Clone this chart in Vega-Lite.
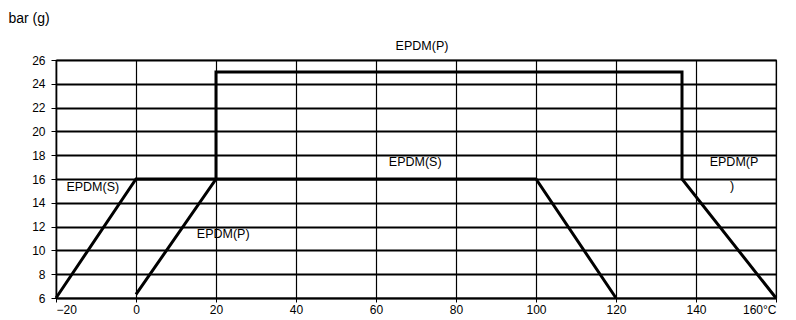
{
  "$schema": "https://vega.github.io/schema/vega-lite/v6.json",
  "width": 720,
  "height": 238,
  "padding": {"left": 56, "top": 60, "right": 20, "bottom": 22},
  "autosize": {"type": "none"},
  "background": "white",
  "config": {
    "font": "Liberation Sans",
    "view": {"stroke": "black", "strokeWidth": 1.2},
    "axis": {
      "labelFont": "Liberation Sans",
      "labelFontSize": 12,
      "labelColor": "black",
      "labelOverlap": false,
      "domainColor": "black",
      "tickColor": "black",
      "gridColor": "black",
      "gridOpacity": 1
    }
  },
  "datasets": {
    "lines": [
      {"series": "EPDM(S)", "order": 1, "t": -20, "bar": 6},
      {"series": "EPDM(S)", "order": 2, "t": 0, "bar": 16},
      {"series": "EPDM(S)", "order": 3, "t": 100, "bar": 16},
      {"series": "EPDM(S)", "order": 4, "t": 120, "bar": 6},
      {"series": "EPDM(P)", "order": 1, "t": 0, "bar": 6.3},
      {"series": "EPDM(P)", "order": 2, "t": 20, "bar": 16},
      {"series": "EPDM(P)", "order": 3, "t": 20, "bar": 25},
      {"series": "EPDM(P)", "order": 4, "t": 136.5, "bar": 25},
      {"series": "EPDM(P)", "order": 5, "t": 136.5, "bar": 16},
      {"series": "EPDM(P)", "order": 6, "t": 160, "bar": 6}
    ],
    "labels": [
      {"text": "EPDM(P)", "t": 71.5, "bar": 27.15},
      {"text": "EPDM(S)", "t": 69.8, "bar": 17.4},
      {"text": "EPDM(S)", "t": -10.8, "bar": 15.3},
      {"text": "EPDM(P)", "t": 21.8, "bar": 11.4},
      {"text": "EPDM(P", "t": 149.5, "bar": 17.4},
      {"text": ")", "t": 149, "bar": 15.45}
    ]
  },
  "layer": [
    {
      "data": {"name": "lines"},
      "mark": {"type": "line", "color": "black", "strokeWidth": 3, "strokeJoin": "miter"},
      "encoding": {
        "x": {
          "field": "t", "type": "quantitative",
          "scale": {"domain": [-20, 160], "nice": false, "zero": false},
          "axis": {
            "title": null,
            "values": [-20, 0, 20, 40, 60, 80, 100, 120, 140, 160],
            "tickCount": 10,
            "labelExpr": "datum.value == 160 ? '160°C' : datum.label",
            "grid": true, "gridWidth": 1.2,
            "tickSize": 4, "labelPadding": 2, "domainWidth": 1.5
          }
        },
        "y": {
          "field": "bar", "type": "quantitative",
          "scale": {"domain": [6, 26], "nice": false, "zero": false},
          "axis": {
            "title": "bar (g)",
            "titleAngle": 0,
            "titleX": -48,
            "titleY": -42,
            "titleAlign": "left",
            "titleBaseline": "middle",
            "titleFontWeight": "normal",
            "titleFontSize": 14,
            "titleColor": "black",
            "titleFont": "Liberation Sans",
            "values": [6, 8, 10, 12, 14, 16, 18, 20, 22, 24, 26],
            "tickCount": 11,
            "grid": true, "gridWidth": 1.8,
            "tickSize": 5, "labelPadding": 6, "domainWidth": 1.5
          }
        },
        "detail": {"field": "series"},
        "order": {"field": "order"}
      }
    },
    {
      "data": {"name": "labels"},
      "mark": {"type": "text", "font": "Liberation Sans", "fontSize": 12.5, "color": "black"},
      "encoding": {
        "x": {"field": "t", "type": "quantitative"},
        "y": {"field": "bar", "type": "quantitative"},
        "text": {"field": "text"}
      }
    }
  ]
}
